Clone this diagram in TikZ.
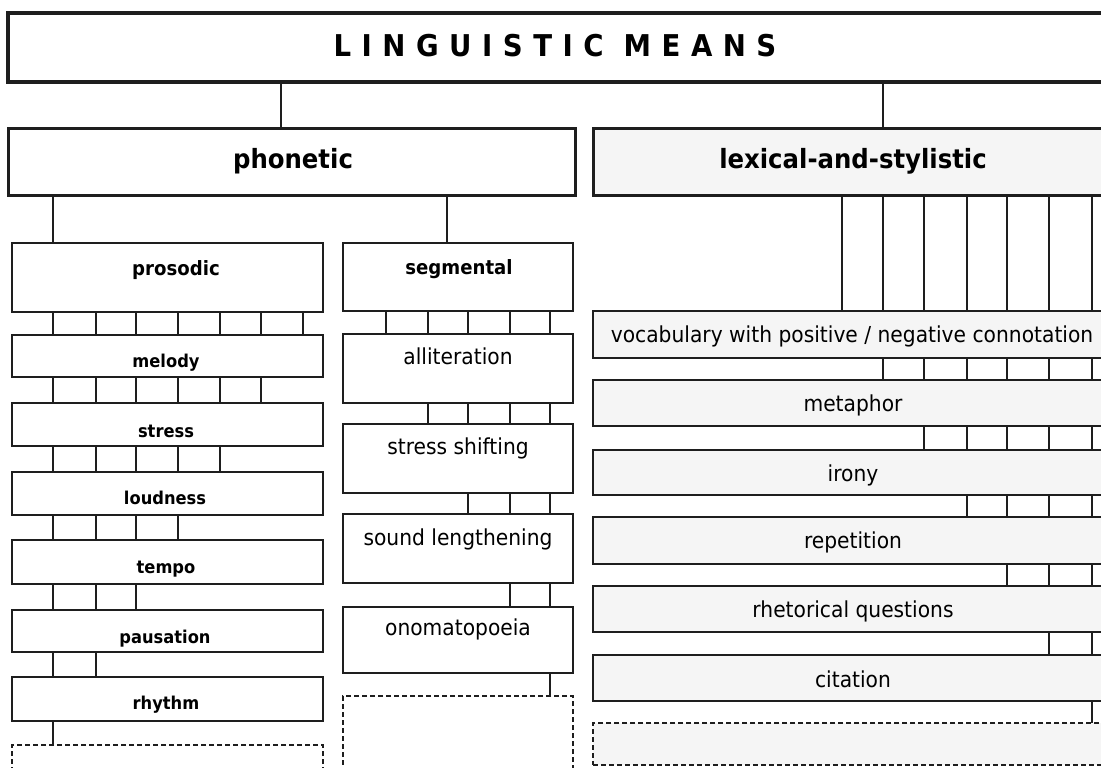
\documentclass[tikz,border=0pt]{standalone}
\usepackage{fontspec}
\setmainfont{DejaVu Sans}[FakeStretch=0.92]
\newfontfamily\titlefont{DejaVu Sans}[FakeStretch=0.92,LetterSpace=35]
\usetikzlibrary{backgrounds}
\definecolor{lexfill}{HTML}{F5F5F5}
\definecolor{edge}{HTML}{1E1E1E}
\tikzset{
  box/.style={draw=edge, fill=white, rectangle, inner sep=0pt, outer sep=0pt, anchor=north west},
  lvlzero/.style={box, line width=3.6pt},
  lvlone/.style={box, line width=3pt},
  lvltwo/.style={box, line width=2.6pt},
  itembox/.style={box, line width=1.4pt},
  lexbox/.style={fill=lexfill},
  ghost/.style={box, line width=1.1pt, dash pattern=on 5pt off 3pt},
  conn/.style={draw=edge, line width=1.1pt},
  ttitle/.style={anchor=base, font=\titlefont\bfseries\fontsize{30}{32}\selectfont},
  thead/.style={anchor=base, font=\bfseries\fontsize{26.5}{30}\selectfont},
  tsub/.style={anchor=base, font=\bfseries\fontsize{19.7}{22}\selectfont},
  tpros/.style={anchor=base, font=\bfseries\fontsize{17.7}{20}\selectfont},
  titem/.style={anchor=base, font=\fontsize{22}{24}\selectfont},
}
\begin{document}
\begin{tikzpicture}[x=1pt, y=-1pt]
\useasboundingbox (0,0) rectangle (1101,768);
\clip (0,0) rectangle (1101,768);

% top level
\node[lvlzero, minimum width=1097pt, minimum height=69pt] (means) at (8,13) {};
\node[ttitle] (means-t) at (555,57) {LINGUISTIC MEANS};

% second level
\node[lvlone, minimum width=567pt, minimum height=67pt] (phonetic) at (8,128) {};
\node[thead] (phonetic-t) at (293,168) {phonetic};
\node[lvlone, lexbox, minimum width=520pt, minimum height=67pt] (lexical) at (593,128) {};
\node[thead] (lexical-t) at (853,168) {lexical-and-stylistic};

% phonetic subdivisions
\node[lvltwo, minimum width=311pt, minimum height=69pt] (prosodic) at (12,243) {};
\node[tsub] (prosodic-t) at (176,275) {prosodic};
\node[lvltwo, minimum width=230pt, minimum height=68pt] (segmental) at (343,243) {};
\node[tsub] (segmental-t) at (459,274) {segmental};

% prosodic items
\node[itembox, minimum width=311pt, minimum height=42pt] (melody) at (12,335) {};
\node[tpros] (melody-t) at (166,367) {melody};
\node[itembox, minimum width=311pt, minimum height=43pt] (stress) at (12,403) {};
\node[tpros] (stress-t) at (166,437) {stress};
\node[itembox, minimum width=311pt, minimum height=43pt] (loudness) at (12,472) {};
\node[tpros] (loudness-t) at (165,504) {loudness};
\node[itembox, minimum width=311pt, minimum height=44pt] (tempo) at (12,540) {};
\node[tpros] (tempo-t) at (166,573) {tempo};
\node[itembox, minimum width=311pt, minimum height=42pt] (pausation) at (12,610) {};
\node[tpros] (pausation-t) at (165,643) {pausation};
\node[itembox, minimum width=311pt, minimum height=44pt] (rhythm) at (12,677) {};
\node[tpros] (rhythm-t) at (166,709) {rhythm};
\node[ghost, minimum width=311pt, minimum height=60pt] (pdash) at (12,745) {};

% segmental items
\node[itembox, minimum width=230pt, minimum height=69pt] (allit) at (343,334) {};
\node[titem] (allit-t) at (458,364) {alliteration};
\node[itembox, minimum width=230pt, minimum height=69pt] (shift) at (343,424) {};
\node[titem] (shift-t) at (458,454) {stress shifting};
\node[itembox, minimum width=230pt, minimum height=69pt] (length) at (343,514) {};
\node[titem] (length-t) at (458,545) {sound lengthening};
\node[itembox, minimum width=230pt, minimum height=66pt] (onomat) at (343,607) {};
\node[titem] (onomat-t) at (458,635) {onomatopoeia};
\node[ghost, minimum width=230pt, minimum height=100pt] (sdash) at (343,696) {};

% lexical items
\node[itembox, lexbox, minimum width=520pt, minimum height=47pt] (vocab) at (593,311) {};
\node[titem] (vocab-t) at (852,342) {vocabulary with positive / negative connotation};
\node[itembox, lexbox, minimum width=520pt, minimum height=46pt] (metaphor) at (593,380) {};
\node[titem] (metaphor-t) at (853,411) {metaphor};
\node[itembox, lexbox, minimum width=520pt, minimum height=45pt] (irony) at (593,450) {};
\node[titem] (irony-t) at (853,481) {irony};
\node[itembox, lexbox, minimum width=520pt, minimum height=47pt] (repetition) at (593,517) {};
\node[titem] (repetition-t) at (853,548) {repetition};
\node[itembox, lexbox, minimum width=520pt, minimum height=46pt] (rhetoric) at (593,586) {};
\node[titem] (rhetoric-t) at (853,617) {rhetorical questions};
\node[itembox, lexbox, minimum width=520pt, minimum height=46pt] (citation) at (593,655) {};
\node[titem] (citation-t) at (853,687) {citation};
\node[ghost, lexbox, minimum width=520pt, minimum height=42pt] (ldash) at (593,723) {};

% connectors (behind the boxes)
\begin{scope}[on background layer]
  \foreach \p/\n/\x in {means/phonetic/281, means/lexical/883,
      phonetic/prosodic/53, phonetic/segmental/447,
      prosodic/melody/303, prosodic/stress/261, prosodic/loudness/220,
      prosodic/tempo/178, prosodic/pausation/136, prosodic/rhythm/96, prosodic/pdash/53,
      segmental/allit/386, segmental/shift/428, segmental/length/468,
      segmental/onomat/510, segmental/sdash/550,
      lexical/vocab/842, lexical/metaphor/883, lexical/irony/924,
      lexical/repetition/967, lexical/rhetoric/1007, lexical/citation/1049, lexical/ldash/1092}{
    \coordinate (cx) at (\x,0);
    \draw[conn] (\p.south -| cx) -- (\n.north -| cx);
  }
\end{scope}
\end{tikzpicture}
\end{document}
